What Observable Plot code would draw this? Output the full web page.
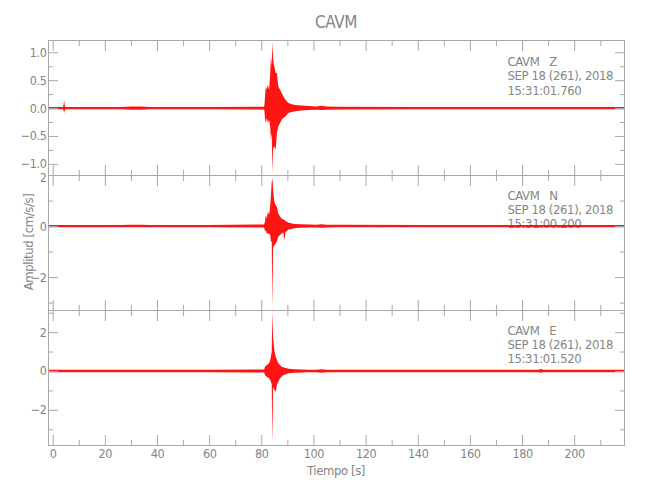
<!DOCTYPE html>
<html><head><meta charset="utf-8">
<script src="https://cdn.jsdelivr.net/npm/d3@7"></script>
<script src="https://cdn.jsdelivr.net/npm/@observablehq/plot@0.6"></script>
<style>
body{margin:0;background:#fff;}
#wrap{position:relative;width:650px;height:500px;font-family:'Liberation Sans Narrow','DejaVu Sans Condensed',sans-serif;color:#858585;overflow:hidden;letter-spacing:-0.4px;}
.lbl{position:absolute;white-space:pre;text-align:center;}
</style></head><body><div id="wrap"></div>
<script>
// ---- data ----
const title = "CAVM";
const yTitle = "Amplitud [cm/s/s]";
const xTitle = "Tiempo [s]";
const xDomain = [-1.8, 219.1];
const xMajor = [0, 20, 40, 60, 80, 100, 120, 140, 160, 180, 200];
const xMinor = [10, 30, 50, 70, 90, 110, 130, 150, 170, 190, 210];

// envelope sample times (s)
const times = [-1.8, 4.0, 4.4, 4.7, 5.2, 26, 30, 34, 37, 60, 81.0, 81.2, 81.4, 81.7, 82.1, 82.5, 83.0, 83.4, 83.7, 84.0, 84.25, 84.5, 84.7, 85.0, 85.5, 86.0, 86.5, 87.2, 87.8, 88.5, 88.9, 89.3, 89.8, 90.4, 91.7, 92.9, 95.5, 98.1, 101, 103.2, 105, 109.6, 140, 186.5, 187.2, 188, 219.1];

// Z component: upper / lower envelope
const zHi = [0.02,0.02,0.13,0.025,0.02,0.02,0.03,0.03,0.02,0.02,0.025,0.05,0.18,0.39,0.33,0.42,0.33,0.60,0.93,0.75,1.18,0.93,0.80,0.75,0.63,0.63,0.39,0.33,0.27,0.21,0.17,0.15,0.12,0.09,0.07,0.055,0.045,0.035,0.03,0.04,0.03,0.025,0.02,0.02,0.02,0.02,0.02];
const zLo = [-0.02,-0.02,-0.09,-0.025,-0.02,-0.02,-0.03,-0.03,-0.02,-0.02,-0.025,-0.04,-0.18,-0.27,-0.18,-0.27,-0.21,-0.33,-0.57,-0.45,-1.16,-0.75,-0.70,-0.69,-0.75,-0.45,-0.33,-0.27,-0.21,-0.18,-0.16,-0.15,-0.12,-0.09,-0.07,-0.055,-0.045,-0.035,-0.03,-0.035,-0.03,-0.025,-0.02,-0.02,-0.02,-0.02,-0.02];
// N component
const nHi = [0.045,0.045,0.045,0.045,0.045,0.045,0.05,0.05,0.045,0.045,0.06,0.10,0.17,0.43,0.30,0.56,0.45,0.76,1.22,1.74,1.87,1.50,1.22,0.95,0.82,0.76,0.50,0.37,0.30,0.26,0.24,0.20,0.17,0.14,0.10,0.08,0.07,0.06,0.055,0.07,0.055,0.05,0.045,0.045,0.045,0.045,0.045];
const nLo = [-0.045,-0.045,-0.045,-0.045,-0.045,-0.045,-0.05,-0.05,-0.045,-0.045,-0.06,-0.10,-0.22,-0.16,-0.29,-0.29,-0.30,-0.35,-0.61,-0.61,-3.25,-0.90,-0.81,-0.75,-0.68,-0.61,-0.42,-0.35,-0.29,-0.25,-0.55,-0.22,-0.20,-0.14,-0.12,-0.08,-0.07,-0.06,-0.055,-0.065,-0.055,-0.05,-0.045,-0.045,-0.045,-0.045,-0.045];
// E component
const eHi = [0.06,0.06,0.06,0.06,0.06,0.06,0.065,0.065,0.06,0.06,0.08,0.12,0.22,0.26,0.31,0.35,0.40,0.57,0.74,1.0,3.1,1.8,1.43,1.08,0.74,0.57,0.40,0.31,0.22,0.19,0.17,0.15,0.14,0.12,0.10,0.09,0.08,0.07,0.07,0.085,0.07,0.065,0.06,0.06,0.11,0.06,0.06];
const eLo = [-0.06,-0.06,-0.06,-0.06,-0.06,-0.06,-0.065,-0.065,-0.06,-0.06,-0.08,-0.12,-0.21,-0.25,-0.29,-0.33,-0.38,-0.46,-0.55,-0.70,-3.72,-1.0,-0.81,-0.98,-1.07,-0.72,-0.55,-0.38,-0.29,-0.21,-0.19,-0.17,-0.15,-0.12,-0.10,-0.09,-0.08,-0.07,-0.07,-0.085,-0.07,-0.065,-0.06,-0.06,-0.09,-0.06,-0.06];

const yDomainZ = [-1.2, 1.22];
const yDomainN = [-3.29, 2.0];
const yDomainE = [-3.81, 3.14];
const yMajorZ = [-1, -0.5, 0, 0.5, 1];
const yMinorZ = [-0.75, -0.25, 0.25, 0.75];
const yLabelsZ = ["−1.0", "−0.5", "0.0", "0.5", "1.0"];
const yMajorN = [-2, 0, 2];
const yMinorN = [-3, -1, 1];
const yLabelsN = ["−2", "0", "2"];
const yMajorE = [-2, 0, 2];
const yMinorE = [-3, -1, 1, 3];
const yLabelsE = ["−2", "0", "2"];

const station = "CAVM";
const components = ["Z", "N", "E"];
const dateText = "SEP 18 (261), 2018";
const startTimes = ["15:31:01.760", "15:31:00.200", "15:31:01.520"];

// ---- drawing ----
const lineColor = "#a8a8a8";
const textColor = "#858585";
const fontFam = "'Liberation Sans Narrow','DejaVu Sans Condensed',sans-serif";
const wrap = document.getElementById("wrap");

function panel(cfg) {
  const data = times.map((t, i) => ({t, hi: cfg.hi[i], lo: cfg.lo[i]}));
  const labelOf = new Map(cfg.major.map((v, i) => [v, cfg.labels[i]]));
  const note = `${station}   ${components[cfg.k]}\n${dateText}\n${startTimes[cfg.k]}`;
  const yMax = cfg.domain[1];
  const edgeTicks = cfg.major.filter(v => Math.abs(v - yMax) < 0.05);
  const innerTicks = cfg.major.filter(v => Math.abs(v - yMax) >= 0.05);
  const marks = [
    Plot.text([note], {text: d => d, frameAnchor: "top-right", dx: -117, dy: cfg.noteDy, textAnchor: "start", lineAnchor: "top", lineHeight: 1.1, fontSize: 13, fill: textColor}),
    Plot.areaY(data, {x: "t", y1: "lo", y2: "hi", fill: "#ff0000", fillOpacity: 0.92}),
    Plot.frame({stroke: lineColor}),
    Plot.axisX(xMajor, {anchor: "top", tickSize: -10, tickFormat: () => "", label: null, stroke: lineColor}),
    Plot.axisX(xMinor, {anchor: "top", tickSize: -5, tickFormat: () => "", label: null, stroke: lineColor}),
    Plot.axisX(xMajor, {anchor: "bottom", tickSize: -10, tickFormat: () => "", label: null, stroke: lineColor}),
    Plot.axisX(xMinor, {anchor: "bottom", tickSize: -5, tickFormat: () => "", label: null, stroke: lineColor}),
    Plot.axisY(cfg.major, {anchor: "left", tickSize: -10, tickFormat: () => "", label: null, stroke: lineColor}),
    Plot.axisY(cfg.minor, {anchor: "left", tickSize: -5, tickFormat: () => "", label: null, stroke: lineColor}),
    Plot.axisY(cfg.major, {anchor: "right", tickSize: -10, tickFormat: () => "", label: null, stroke: lineColor}),
    Plot.axisY(cfg.minor, {anchor: "right", tickSize: -5, tickFormat: () => "", label: null, stroke: lineColor}),
    Plot.axisY(innerTicks, {anchor: "left", tickSize: 0, tickPadding: 2, tickFormat: d => labelOf.get(d), label: null, fontSize: 12.5, fill: textColor})
  ];
  if (edgeTicks.length) {
    // label sitting on the shared panel edge, nudged down so it clears the panel above
    marks.push(Plot.axisY(edgeTicks, {anchor: "left", tickSize: 0, tickPadding: 2, tickFormat: d => labelOf.get(d), label: null, fontSize: 12, fill: textColor, dy: 3}));
  }
  if (cfg.showX) {
    marks.push(Plot.axisX(xMajor, {anchor: "bottom", tickSize: 0, tickPadding: 4, tickFormat: d => String(d), label: null, fontSize: 12.5, fill: textColor}));
  }
  const svg = Plot.plot({
    width: 650, height: cfg.height,
    marginLeft: 48, marginRight: 26, marginTop: cfg.mt, marginBottom: cfg.mb,
    x: {domain: xDomain},
    y: {domain: cfg.domain},
    style: {position: "absolute", left: "0px", top: cfg.top + "px", background: "transparent", overflow: "visible", fontFamily: fontFam, color: textColor, letterSpacing: "-0.4px"},
    marks
  });
  wrap.appendChild(svg);
}

panel({k: 0, hi: zHi, lo: zLo, domain: yDomainZ, major: yMajorZ, minor: yMinorZ, labels: yLabelsZ, top: 0, height: 175, mt: 40, mb: 0, noteDy: 15.5, showX: false});
panel({k: 1, hi: nHi, lo: nLo, domain: yDomainN, major: yMajorN, minor: yMinorN, labels: yLabelsN, top: 175, height: 135, mt: 0, mb: 0, noteDy: 14, showX: false});
panel({k: 2, hi: eHi, lo: eLo, domain: yDomainE, major: yMajorE, minor: yMinorE, labels: yLabelsE, top: 310, height: 190, mt: 0, mb: 55, noteDy: 14, showX: true});

function addLabel(text, css) {
  const d = document.createElement("div");
  d.className = "lbl";
  d.textContent = text;
  Object.assign(d.style, css);
  wrap.appendChild(d);
}
addLabel(title, {left: "276px", width: "120px", top: "13px", fontSize: "17px", lineHeight: "18px"});
addLabel(xTitle, {left: "276px", width: "120px", top: "464px", fontSize: "13px", lineHeight: "14px"});
addLabel(yTitle, {left: "-31px", width: "120px", top: "235px", fontSize: "13px", lineHeight: "14px", transform: "rotate(-90deg)"});
</script></body></html>
